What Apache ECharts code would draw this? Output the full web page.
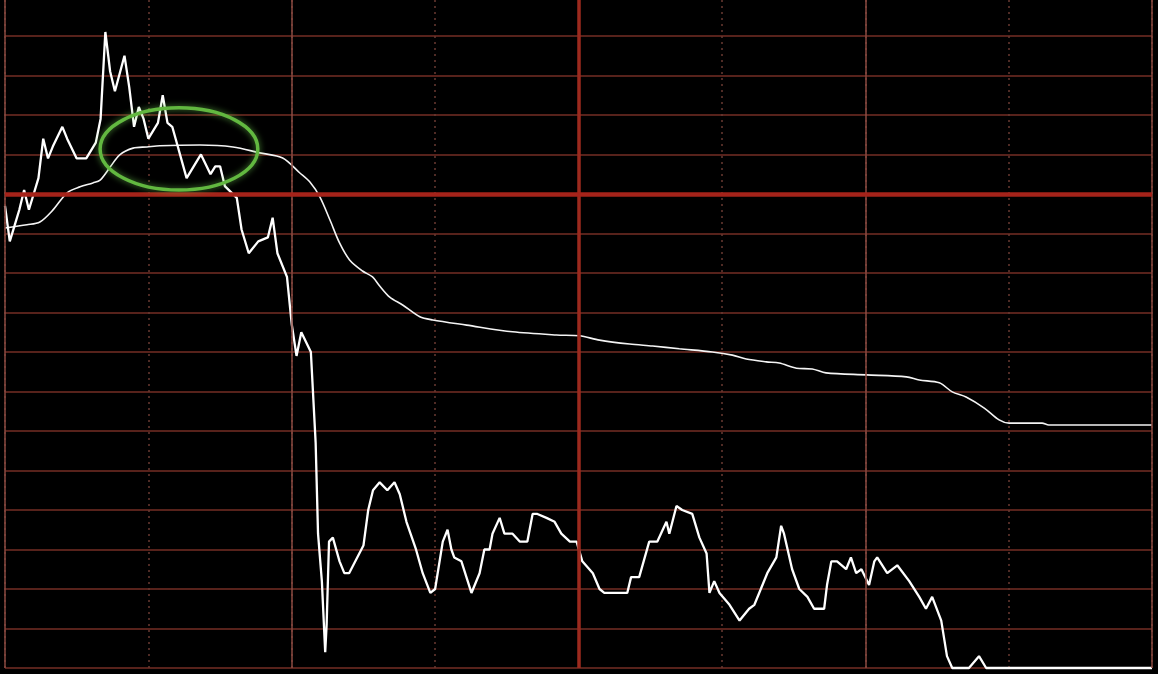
<!DOCTYPE html>
<html>
<head>
<meta charset="utf-8">
<script src="https://cdn.jsdelivr.net/npm/echarts@6/dist/echarts.min.js"></script>
<style>
html,body{margin:0;padding:0;background:#000;}
#chart{width:1158px;height:674px;}
</style>
</head>
<body>
<div id="chart"></div>
<script>
// Intraday (minute) chart: minutes since open, prices
var prevClose = 12.00;
var priceTimes = [0,1,2,3,4,5,6,7,8,9,10,12,13,15,17,19,20,21,22,23,25,26,27,28,29,30,32,33,34,35,38,41,43,44,45,46,48.5,49.5,51,53,55,56,57,59,60,61,62,64,65,65.5,66.3,67,67.3,67.8,68.6,70,71,72,75,76,77,78.4,80,81.5,82.6,84,86,87.4,89,90,91.6,92.6,93.4,94,95.5,97.6,99.3,100.3,101.4,102,103.5,104.5,106.2,107.7,109.3,110.4,111.4,113.3,115,116.4,118.2,119.6,120.8,123,124.4,125.4,127.5,130.2,131,132.7,134.8,136.5,138.4,139,140.5,141.7,143.8,145.3,146.8,147.4,148.4,149.5,151.6,153.7,155.7,156.8,159.5,161.4,162.4,163,164.7,166.2,167.9,169.3,171.4,172,172.9,174.1,176,177,178.1,179.2,180.8,181.9,182.5,184.6,186.7,189.2,191.3,192.7,194,195.9,197.1,198.2,201.7,203.8,205.3,240];
var priceValues = [11.97,11.88,11.92,11.96,12.01,11.96,12.00,12.04,12.14,12.09,12.12,12.17,12.14,12.09,12.09,12.13,12.19,12.41,12.31,12.26,12.35,12.27,12.17,12.22,12.19,12.14,12.18,12.25,12.18,12.17,12.04,12.10,12.05,12.07,12.07,12.02,11.99,11.91,11.85,11.88,11.89,11.94,11.85,11.79,11.67,11.59,11.65,11.60,11.37,11.14,11.02,10.84,10.91,11.12,11.13,11.07,11.04,11.04,11.11,11.20,11.25,11.27,11.25,11.27,11.24,11.17,11.10,11.04,10.99,11.00,11.12,11.15,11.10,11.08,11.07,10.99,11.04,11.10,11.10,11.14,11.18,11.14,11.14,11.12,11.12,11.19,11.19,11.18,11.17,11.14,11.12,11.12,11.07,11.04,11.00,10.99,10.99,10.99,11.03,11.03,11.12,11.12,11.17,11.14,11.21,11.20,11.19,11.13,11.09,10.99,11.02,10.99,10.96,10.92,10.95,10.96,11.04,11.08,11.16,11.14,11.05,11.00,10.98,10.95,10.95,11.01,11.07,11.07,11.05,11.08,11.04,11.05,11.01,11.07,11.08,11.04,11.06,11.02,10.98,10.95,10.98,10.92,10.83,10.80,10.80,10.83,10.80,10.80];
var avgTimes = [0,4.6,7.3,10,13,15.7,18.4,19.9,22,24,26.8,29.7,32.4,40.8,47.7,53.3,58.1,61.7,63.8,65.9,68,70,72.1,74.8,76.9,78.4,80.5,83.2,86.8,89.5,96.6,106.2,115.4,120.2,124.4,130.7,135.5,141.1,148,152.2,155.1,159.3,162,165.6,168.9,171.8,180.2,188.6,191.3,195.5,198.2,201.1,204.9,208,210.1,217,218.4,240];
var avgValues = [11.914,11.922,11.929,11.959,12.003,12.018,12.028,12.035,12.068,12.099,12.116,12.119,12.122,12.124,12.119,12.104,12.091,12.053,12.030,11.992,11.934,11.876,11.833,11.805,11.790,11.767,11.739,11.719,11.689,11.681,11.668,11.651,11.643,11.641,11.630,11.620,11.615,11.608,11.600,11.592,11.582,11.575,11.572,11.559,11.557,11.547,11.542,11.537,11.529,11.522,11.499,11.486,11.458,11.428,11.420,11.420,11.415,11.415];
// axis setup (the view is cropped just below the 12.50 grid line)
var yMin = 10.8, yMax = 12.491, yStep = 0.1;
var xMin = 0, xMax = 240, xStep = 30;
var solidTimes = [0, 60, 180, 240];
var middleTime = 120;
// annotation ellipse (data coords): center minute/price, radii
var ellipseCenter = [36.4, 12.114];
var ellipseRadii = [16.5, 0.104];

function pairs(t, v){ return t.map(function(x,i){ return [x, v[i]]; }); }

var chart = echarts.init(document.getElementById('chart'));
chart.setOption({
  backgroundColor: '#000000',
  animation: false,
  grid: {left: 5, right: 6, top: 0, height: 668},
  xAxis: {
    type: 'value', min: xMin, max: xMax, interval: xStep,
    axisLine: {show: false}, axisTick: {show: false}, axisLabel: {show: false},
    splitLine: {show: true, lineStyle: {color: '#6a3a32', type: [2, 4], width: 1.5}}
  },
  yAxis: {
    type: 'value', min: yMin, max: yMax, interval: yStep,
    axisLine: {show: false}, axisTick: {show: false}, axisLabel: {show: false},
    splitLine: {show: true, showMaxLine: false, lineStyle: {color: '#742e25', width: 1.5}}
  },
  series: [
    {
      type: 'line', data: [], z: 1, silent: true,
      markLine: {
        silent: true, symbol: 'none', label: {show: false}, animation: false,
        data: solidTimes.map(function(t){ return {xAxis: t, lineStyle: {color: '#8a4a40', width: 1.5, type: 'solid'}}; })
          .concat([
            {xAxis: middleTime, lineStyle: {color: '#9c2a1e', width: 3.5, type: 'solid'}},
            {yAxis: prevClose, lineStyle: {color: '#a5231a', width: 4.5, type: 'solid'}}
          ])
      }
    },
    {
      name: '均价', type: 'line', data: pairs(avgTimes, avgValues), z: 3,
      showSymbol: false, smooth: 0.3, clip: false,
      lineStyle: {color: '#f4f4f4', width: 1.6}
    },
    {
      name: '价格', type: 'line', data: pairs(priceTimes, priceValues), z: 4,
      showSymbol: false, clip: false,
      lineStyle: {color: '#ffffff', width: 2.3}
    }
  ]
});

var c = chart.convertToPixel({gridIndex: 0}, ellipseCenter);
var e = chart.convertToPixel({gridIndex: 0}, [ellipseCenter[0] + ellipseRadii[0], ellipseCenter[1] + ellipseRadii[1]]);
chart.setOption({
  graphic: [{
    type: 'ellipse', z: 10,
    shape: {cx: c[0], cy: c[1], rx: Math.abs(e[0] - c[0]), ry: Math.abs(e[1] - c[1])},
    style: {fill: 'none', stroke: '#62b840', lineWidth: 3.5, shadowBlur: 6, shadowColor: 'rgba(110,200,80,0.7)'}
  }]
});
</script>
</body>
</html>
